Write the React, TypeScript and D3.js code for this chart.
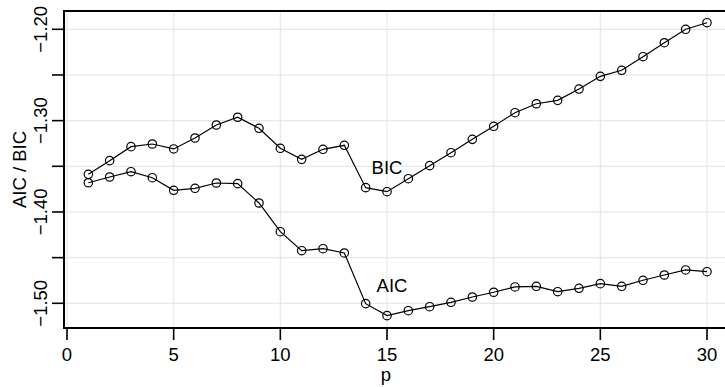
import React from "react";
import * as d3 from "d3";

const pValues = [1,2,3,4,5,6,7,8,9,10,11,12,13,14,15,16,17,18,19,20,21,22,23,24,25,26,27,28,29,30];
const bicValues = [-1.3588,-1.3438,-1.3285,-1.3256,-1.3310,-1.3190,-1.3048,-1.2963,-1.3084,-1.3303,-1.3424,-1.3314,-1.3270,-1.3734,-1.3778,-1.3636,-1.3493,-1.3351,-1.3205,-1.3062,-1.2913,-1.2815,-1.2778,-1.2654,-1.2515,-1.2449,-1.2300,-1.2147,-1.2000,-1.1928];
const aicValues = [-1.3680,-1.3617,-1.3559,-1.3625,-1.3763,-1.3741,-1.3683,-1.3690,-1.3902,-1.4216,-1.4424,-1.4402,-1.4449,-1.5004,-1.5135,-1.5081,-1.5037,-1.4989,-1.4931,-1.4879,-1.4821,-1.4814,-1.4873,-1.4836,-1.4785,-1.4814,-1.4748,-1.4690,-1.4635,-1.4654];
const xTicks = [0,5,10,15,20,25,30];
const yTicks = [-1.50,-1.45,-1.40,-1.35,-1.30,-1.25,-1.20];
const yLabelTicks = [-1.50,-1.40,-1.30,-1.20];

const W = 725, H = 387;
const FONT = "'Liberation Sans', Arial, Helvetica, sans-serif";
const FS = 18.5;

export default function App() {
  const x = d3.scaleLinear().domain([0, 30]).range([67, 707]);
  const y = d3.scaleLinear().domain([-1.5, -1.2]).range([303.3, 29.3]);
  const left = 64, top = 11, bottom = 328, right = 745;
  const line = d3.line<number>().x((_, i) => x(pValues[i])).y(d => y(d));
  const fmt = (v: number) => "\u2212" + Math.abs(v).toFixed(2);
  return (
    <svg width={W} height={H} style={{ position: "absolute", left: 0, top: 0, display: "block", background: "#fff" }}>
      {/* grid */}
      {xTicks.map(t => (
        <line key={"gx" + t} x1={x(t)} x2={x(t)} y1={top} y2={bottom} stroke="#e8e8e8" strokeWidth={1.2} />
      ))}
      {yTicks.map(t => (
        <line key={"gy" + t} x1={left} x2={right} y1={y(t)} y2={y(t)} stroke="#e8e8e8" strokeWidth={1.2} />
      ))}
      {/* box */}
      <rect x={left} y={top} width={right - left} height={bottom - top} fill="none" stroke="#000" strokeWidth={2} />
      {/* x ticks */}
      {xTicks.map(t => (
        <g key={"xt" + t}>
          <line x1={x(t)} x2={x(t)} y1={bottom} y2={bottom + 12} stroke="#000" strokeWidth={1.6} />
          <text x={x(t)} y={360.5} textAnchor="middle" fontFamily={FONT} fontSize={FS}>{t}</text>
        </g>
      ))}
      {/* y ticks */}
      {yTicks.map(t => (
        <line key={"yt" + t} x1={left - 12} x2={left} y1={y(t)} y2={y(t)} stroke="#000" strokeWidth={1.6} />
      ))}
      {yLabelTicks.map(t => (
        <text key={"yl" + t} transform={`translate(46.5,${y(t)}) rotate(-90)`} textAnchor="middle" fontFamily={FONT} fontSize={FS}>{fmt(t)}</text>
      ))}
      {/* axis titles */}
      <text x={386} y={381} textAnchor="middle" fontFamily={FONT} fontSize={FS}>p</text>
      <text transform={`translate(25.5,${(top + bottom) / 2}) rotate(-90)`} textAnchor="middle" fontFamily={FONT} fontSize={FS}>AIC / BIC</text>
      {/* lines */}
      <path d={line(bicValues) || ""} fill="none" stroke="#000" strokeWidth={1.2} />
      <path d={line(aicValues) || ""} fill="none" stroke="#000" strokeWidth={1.2} />
      {bicValues.map((v, i) => (
        <circle key={"b" + i} cx={x(pValues[i])} cy={y(v)} r={4.2} fill="none" stroke="#000" strokeWidth={1.2} />
      ))}
      {aicValues.map((v, i) => (
        <circle key={"a" + i} cx={x(pValues[i])} cy={y(v)} r={4.2} fill="none" stroke="#000" strokeWidth={1.2} />
      ))}
      <text x={387} y={173.5} textAnchor="middle" fontFamily={FONT} fontSize={FS}>BIC</text>
      <text x={392} y={291.5} textAnchor="middle" fontFamily={FONT} fontSize={FS}>AIC</text>
    </svg>
  );
}
